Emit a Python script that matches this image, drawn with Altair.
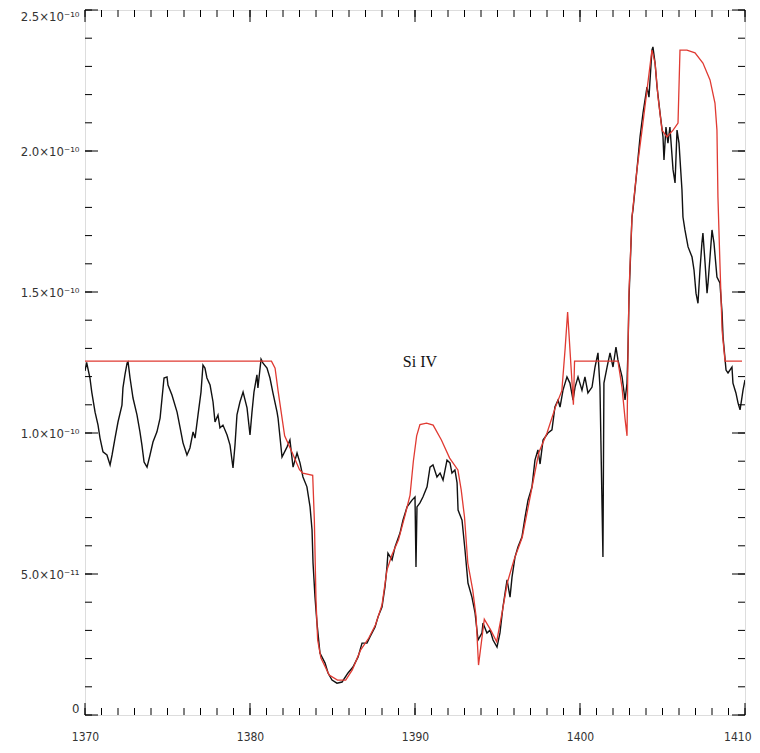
import altair as alt
import pandas as pd
import numpy as np

# Observed spectrum (wavelength in Angstrom, flux in units of 1e-10)
obs_wave = [1370.00, 1370.10, 1370.30, 1370.41, 1370.61, 1370.79, 1370.91, 1371.09, 1371.33, 1371.52,
            1371.64, 1371.82, 1372.00, 1372.24, 1372.30, 1372.42, 1372.55, 1372.61, 1372.73, 1372.91,
            1373.15, 1373.33, 1373.45, 1373.58, 1373.76, 1373.94, 1374.12, 1374.36, 1374.55, 1374.67,
            1374.79, 1374.97, 1375.03, 1375.27, 1375.58, 1375.76, 1375.94, 1376.18, 1376.36, 1376.55,
            1376.67, 1376.85, 1377.03, 1377.15, 1377.27, 1377.39, 1377.58, 1377.76, 1377.88, 1378.06,
            1378.18, 1378.36, 1378.61, 1378.79, 1378.97, 1379.09, 1379.21, 1379.39, 1379.58, 1379.82,
            1380.00, 1380.12, 1380.24, 1380.42, 1380.48, 1380.67, 1380.79, 1381.03, 1381.21, 1381.39,
            1381.64, 1381.70, 1381.94, 1382.24, 1382.42, 1382.61, 1382.85, 1383.03, 1383.21, 1383.45,
            1383.64, 1383.76, 1383.82, 1383.94, 1384.06, 1384.24, 1384.55, 1384.73, 1384.97, 1385.27,
            1385.58, 1385.94, 1386.24, 1386.55, 1386.79, 1387.09, 1387.27, 1387.58, 1387.76, 1388.00,
            1388.18, 1388.30, 1388.36, 1388.61, 1388.79, 1389.09, 1389.27, 1389.52, 1389.82, 1390.00,
            1390.06, 1390.12, 1390.30, 1390.48, 1390.73, 1390.91, 1391.09, 1391.33, 1391.52, 1391.70,
            1391.94, 1392.12, 1392.24, 1392.42, 1392.55, 1392.61, 1392.85, 1393.03, 1393.21, 1393.45,
            1393.64, 1393.82, 1394.06, 1394.12, 1394.36, 1394.55, 1394.73, 1394.97, 1395.15, 1395.33,
            1395.58, 1395.76, 1395.88, 1396.06, 1396.24, 1396.48, 1396.67, 1396.85, 1397.09, 1397.27,
            1397.45, 1397.58, 1397.76, 1398.06, 1398.30, 1398.48, 1398.67, 1398.79, 1398.97, 1399.21,
            1399.39, 1399.58, 1399.70, 1399.88, 1400.12, 1400.30, 1400.48, 1400.73, 1400.91, 1401.09,
            1401.21, 1401.39, 1401.45, 1401.64, 1401.82, 1402.00, 1402.18, 1402.30, 1402.55, 1402.73,
            1402.85, 1402.91, 1402.97, 1403.15, 1403.21, 1403.45, 1403.64, 1403.82, 1404.06, 1404.18,
            1404.36, 1404.42, 1404.55, 1404.67, 1404.85, 1405.03, 1405.09, 1405.21, 1405.33, 1405.45,
            1405.64, 1405.76, 1405.88, 1406.00, 1406.18, 1406.24, 1406.36, 1406.55, 1406.79, 1406.91,
            1407.03, 1407.15, 1407.27, 1407.39, 1407.45, 1407.58, 1407.70, 1407.76, 1407.88, 1408.00,
            1408.12, 1408.30, 1408.48, 1408.61, 1408.67, 1408.85, 1408.97, 1409.21, 1409.27, 1409.45,
            1409.58, 1409.70, 1409.82, 1409.88, 1410.00]
obs_flux = [1.220, 1.250, 1.195, 1.145, 1.074, 1.028, 0.982, 0.933, 0.922, 0.887,
            0.922, 0.982, 1.039, 1.099, 1.160, 1.206, 1.248, 1.252, 1.195, 1.124,
            1.064, 1.004, 0.957, 0.897, 0.879, 0.922, 0.968, 1.004, 1.053, 1.124,
            1.195, 1.199, 1.170, 1.135, 1.074, 1.020, 0.965, 0.922, 0.947, 1.004,
            0.982, 1.064, 1.145, 1.241, 1.230, 1.195, 1.170, 1.110, 1.039, 1.064,
            1.018, 1.028, 0.993, 0.957, 0.876, 0.957, 1.064, 1.110, 1.145, 1.089,
            0.993, 1.074, 1.145, 1.206, 1.160, 1.262, 1.248, 1.230, 1.195, 1.142,
            1.074, 1.053, 0.915, 0.950, 0.975, 0.879, 0.929, 0.894, 0.844, 0.809,
            0.738, 0.656, 0.539, 0.418, 0.326, 0.220, 0.184, 0.149, 0.124, 0.113,
            0.117, 0.149, 0.170, 0.206, 0.255, 0.255, 0.277, 0.312, 0.348, 0.383,
            0.454, 0.525, 0.574, 0.550, 0.596, 0.645, 0.691, 0.738, 0.762, 0.773,
            0.525, 0.738, 0.752, 0.773, 0.809, 0.879, 0.887, 0.844, 0.858, 0.833,
            0.904, 0.894, 0.858, 0.869, 0.823, 0.727, 0.691, 0.585, 0.468, 0.418,
            0.362, 0.266, 0.291, 0.326, 0.291, 0.301, 0.266, 0.241, 0.291, 0.383,
            0.479, 0.418, 0.489, 0.560, 0.596, 0.631, 0.702, 0.762, 0.809, 0.904,
            0.940, 0.890, 0.975, 1.000, 1.011, 1.092, 1.117, 1.092, 1.152, 1.199,
            1.177, 1.117, 1.163, 1.199, 1.152, 1.199, 1.142, 1.163, 1.234, 1.284,
            1.163, 0.560, 1.177, 1.234, 1.284, 1.234, 1.305, 1.259, 1.199, 1.117,
            1.177, 1.300, 1.480, 1.766, 1.791, 1.933, 2.050, 2.135, 2.227, 2.191,
            2.358, 2.369, 2.312, 2.227, 2.135, 2.050, 1.968, 2.085, 2.028, 2.085,
            1.933, 1.887, 2.074, 2.028, 1.862, 1.766, 1.720, 1.660, 1.624, 1.578,
            1.496, 1.460, 1.578, 1.674, 1.709, 1.603, 1.496, 1.532, 1.624, 1.720,
            1.674, 1.553, 1.532, 1.426, 1.340, 1.223, 1.213, 1.234, 1.177, 1.142,
            1.106, 1.082, 1.128, 1.152, 1.188]

# Model spectrum
mod_wave = [1370.00, 1381.30, 1381.52, 1381.70, 1382.10, 1382.60, 1383.00, 1383.20, 1383.80, 1383.90,
            1384.00, 1384.10, 1384.30, 1384.80, 1385.30, 1385.80, 1386.20, 1386.70, 1387.20, 1387.60,
            1388.00, 1388.30, 1388.60, 1389.00, 1389.40, 1389.70, 1389.90, 1390.10, 1390.30, 1390.70,
            1391.10, 1391.60, 1392.10, 1392.60, 1392.80, 1393.00, 1393.20, 1393.50, 1393.70, 1393.85,
            1394.20, 1394.60, 1394.95, 1395.30, 1395.60, 1396.00, 1396.50, 1397.00, 1397.50, 1398.00,
            1398.50, 1398.90, 1399.10, 1399.25, 1399.45, 1399.60, 1399.67, 1402.30, 1402.55, 1402.73,
            1402.85, 1402.91, 1402.97, 1403.15, 1403.45, 1403.76, 1404.06, 1404.36, 1404.55, 1404.73,
            1404.97, 1405.27, 1405.64, 1405.94, 1406.06, 1406.48, 1406.97, 1407.45, 1407.88, 1408.18,
            1408.30, 1408.36, 1408.48, 1408.61, 1408.79, 1409.82]
mod_flux = [1.255, 1.255, 1.230, 1.150, 0.990, 0.925, 0.870, 0.858, 0.850, 0.691,
            0.408, 0.266, 0.202, 0.142, 0.124, 0.124, 0.160, 0.230, 0.273, 0.319,
            0.390, 0.514, 0.567, 0.621, 0.709, 0.780, 0.900, 0.990, 1.030, 1.035,
            1.028, 0.975, 0.911, 0.869, 0.798, 0.702, 0.539, 0.443, 0.350, 0.177,
            0.340, 0.300, 0.260, 0.370, 0.470, 0.550, 0.630, 0.780, 0.930, 1.000,
            1.090, 1.150, 1.300, 1.429, 1.240, 1.100, 1.255, 1.255, 1.160, 1.050,
            0.990, 1.294, 1.500, 1.766, 1.933, 2.074, 2.216, 2.358, 2.312, 2.191,
            2.074, 2.050, 2.074, 2.099, 2.358, 2.358, 2.348, 2.312, 2.252, 2.170,
            2.074, 1.837, 1.603, 1.365, 1.255, 1.255]

FLUX_UNIT = 1e-10

x_major = [1370, 1380, 1390, 1400, 1410]
x_minor = list(range(1370, 1411))
y_major = [0, 5e-11, 1e-10, 1.5e-10, 2e-10, 2.5e-10]
y_minor = [i * 1e-11 for i in range(26)]
y_labels = ["0", "5.0×10⁻¹¹", "1.0×10⁻¹⁰", "1.5×10⁻¹⁰", "2.0×10⁻¹⁰", "2.5×10⁻¹⁰"]

W, H = 660, 705

obs = pd.DataFrame({"wave": obs_wave, "flux": np.array(obs_flux) * FLUX_UNIT})
mod = pd.DataFrame({"wave": mod_wave, "flux": np.array(mod_flux) * FLUX_UNIT})

xs = alt.Scale(domain=[1370, 1410], nice=False, zero=False)
ys = alt.Scale(domain=[0, 2.5e-10], nice=False, zero=False)

label_expr = "[" + ",".join("'" + s + "'" for s in y_labels) + "][round(datum.value*1e11/5)]"

XAX = alt.Axis(values=x_major, ticks=False, domain=False, grid=False, title=None, format="d",
               labelFlush=False, labelPadding=16, labelFontSize=12,
               labelAlign={"condition": {"test": "datum.value >= 1410", "value": "right"}, "value": "center"},
               labelOffset={"condition": {"test": "datum.value >= 1410", "value": 6}, "value": 0},
               labelFont="DejaVu Sans Condensed", labelColor="#333")
YAX = alt.Axis(values=y_major, ticks=False, domain=False, grid=False, title=None,
               labelExpr=label_expr, labelPadding=6, labelFontSize=13, labelFlush=True,
               labelFont="DejaVu Sans Condensed", labelColor="#333")


def X(field):
    return alt.X(field, scale=xs, axis=XAX, title=None)


def Y(field):
    return alt.Y(field, scale=ys, axis=YAX, title=None)


obs_line = alt.Chart(obs).mark_line(color="#111111", strokeWidth=1.4, clip=True).encode(
    x=X("wave:Q"), y=Y("flux:Q"))

mod_line = alt.Chart(mod).mark_line(color="#e03a32", strokeWidth=1.3, clip=True).encode(
    x=X("wave:Q"), y=Y("flux:Q"))

label = alt.Chart(pd.DataFrame({"wave": [1390.3], "flux": [1.252 * FLUX_UNIT], "t": ["Si IV"]})).mark_text(
    font="Liberation Serif", fontSize=16, color="#111"
).encode(x=X("wave:Q"), y=Y("flux:Q"), text="t:N")

xmin_df = pd.DataFrame({"wave": x_minor})
xmaj_df = pd.DataFrame({"wave": x_major})
ymin_df = pd.DataFrame({"flux": y_minor})
ymaj_df = pd.DataFrame({"flux": y_major})


def xticks(df, length):
    bottom = alt.Chart(df).mark_rule(color="black", strokeWidth=1).encode(
        x=X("wave:Q"), y=alt.value(H), y2=alt.value(H - length))
    top = alt.Chart(df).mark_rule(color="black", strokeWidth=1).encode(
        x=X("wave:Q"), y=alt.value(0), y2=alt.value(length))
    return [bottom, top]


def yticks(df, length):
    left = alt.Chart(df).mark_rule(color="black", strokeWidth=1).encode(
        y=Y("flux:Q"), x=alt.value(0), x2=alt.value(length))
    right = alt.Chart(df).mark_rule(color="black", strokeWidth=1).encode(
        y=Y("flux:Q"), x=alt.value(W), x2=alt.value(W - length))
    return [left, right]


layers = [obs_line, mod_line, label] + xticks(xmin_df, 7) + xticks(xmaj_df, 12) + yticks(ymin_df, 7) + yticks(ymaj_df, 13)

chart = alt.layer(*layers).properties(
    width=W, height=H,
    autosize=alt.AutoSizeParams(type="none"),
    padding={"left": 77, "top": 2, "right": 7, "bottom": 30},
).configure_view(stroke="black", strokeWidth=2).configure(background="white")

chart.save("out.html", embed_options={"renderer": "svg", "actions": False})
